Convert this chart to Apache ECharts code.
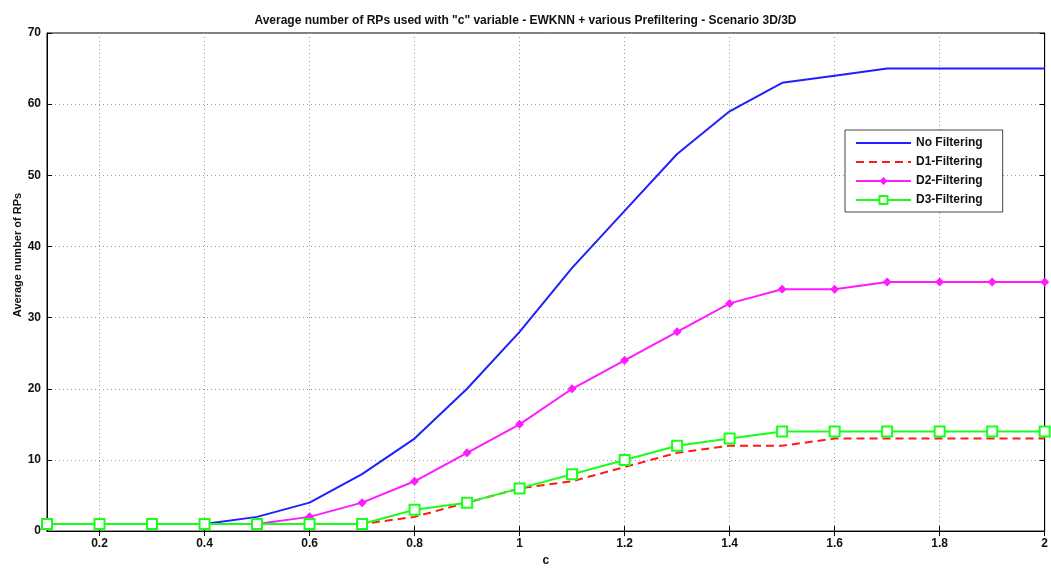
<!DOCTYPE html>
<html>
<head>
<meta charset="utf-8">
<script src="https://cdn.jsdelivr.net/npm/echarts@6/dist/echarts.min.js"></script>
<style>
    html, body { margin: 0; padding: 0; background: #fff; }
    #chart { width: 1051px; height: 572px; }
</style>
</head>
<body>
<div id="chart"></div>
<script>
    // c values along the x axis
    const cValues = ['0.1', '0.2', '0.3', '0.4', '0.5', '0.6', '0.7', '0.8', '0.9', '1',
        '1.1', '1.2', '1.3', '1.4', '1.5', '1.6', '1.7', '1.8', '1.9', '2']
    const noFiltering = [1, 1, 1, 1, 2, 4, 8, 13, 20, 28, 37, 45, 53, 59, 63, 64, 65, 65, 65, 65]
    const d1Filtering = [1, 1, 1, 1, 1, 1, 1, 2, 4, 6, 7, 9, 11, 12, 12, 13, 13, 13, 13, 13]
    const d2Filtering = [1, 1, 1, 1, 1, 2, 4, 7, 11, 15, 20, 24, 28, 32, 34, 34, 35, 35, 35, 35]
    const d3Filtering = [1, 1, 1, 1, 1, 1, 1, 3, 4, 6, 8, 10, 12, 13, 14, 14, 14, 14, 14, 14]
    const yTicks = [0, 10, 20, 30, 40, 50, 60, 70]

    const font = "'Liberation Sans', Arial, sans-serif"
    const everyOther = (idx) => idx % 2 === 1

    const myChart = echarts.init(document.getElementById('chart'))
    myChart.setOption({
        backgroundColor: '#fff',
        animation: false,
        title: {
            text: 'Average number of RPs used with "c" variable - EWKNN + various Prefiltering - Scenario 3D/3D',
            left: 'center',
            top: 10,
            textStyle: {fontFamily: font, fontSize: 12, fontWeight: 'bold', color: '#111'}
        },
        grid: {
            left: 47, right: 5, top: 33, bottom: 34,
            show: true, borderColor: '#000', borderWidth: 1, backgroundColor: '#fff'
        },
        legend: {
            orient: 'vertical',
            left: 845, top: 130,
            padding: [6, 20, 5, 10],
            itemWidth: 55, itemHeight: 10, itemGap: 5,
            backgroundColor: '#fff',
            borderColor: '#444', borderWidth: 1,
            textStyle: {fontFamily: font, fontSize: 12, fontWeight: 'bold', color: '#111', lineHeight: 14},
            data: [
                {name: 'No Filtering', itemStyle: {opacity: 0}},
                {name: 'D1-Filtering', itemStyle: {opacity: 0}},
                {name: 'D2-Filtering'},
                {name: 'D3-Filtering'}
            ]
        },
        xAxis: [{
            type: 'category',
            data: cValues,
            boundaryGap: false,
            name: 'c',
            nameLocation: 'middle',
            nameGap: 19,
            nameTextStyle: {fontFamily: font, fontSize: 12, fontWeight: 'bold', color: '#111'},
            axisLine: {lineStyle: {color: '#000'}},
            axisTick: {inside: true, length: 5, interval: everyOther, lineStyle: {color: '#000'}},
            axisLabel: {interval: everyOther, margin: 7, fontFamily: font, fontSize: 12, fontWeight: 'bold', color: '#111'},
            splitLine: {show: true, interval: everyOther, lineStyle: {color: '#999', type: [1, 3]}}
        }, {
            type: 'category',
            position: 'top',
            data: cValues,
            boundaryGap: false,
            axisLine: {lineStyle: {color: '#000'}},
            axisTick: {inside: true, length: 5, interval: everyOther, lineStyle: {color: '#000'}},
            axisLabel: {show: false},
            splitLine: {show: false}
        }],
        yAxis: [{
            type: 'value',
            min: yTicks[0], max: yTicks[yTicks.length - 1], interval: 10,
            axisLine: {show: true, lineStyle: {color: '#000'}},
            axisTick: {show: true, inside: true, length: 5, lineStyle: {color: '#000'}},
            axisLabel: {margin: 6, fontFamily: font, fontSize: 12, fontWeight: 'bold', color: '#111'},
            splitLine: {show: true, lineStyle: {color: '#999', type: [1, 3]}}
        }, {
            type: 'value',
            position: 'right',
            min: yTicks[0], max: yTicks[yTicks.length - 1], interval: 10,
            axisLine: {show: true, lineStyle: {color: '#000'}},
            axisTick: {show: true, inside: true, length: 5, lineStyle: {color: '#000'}},
            axisLabel: {show: false},
            splitLine: {show: false}
        }],
        graphic: [{
            type: 'text',
            x: 18, y: 255,
            rotation: Math.PI / 2,
            style: {
                text: 'Average number of RPs',
                fontFamily: font, fontSize: 11, fontWeight: 'bold', fill: '#111',
                align: 'center', verticalAlign: 'middle'
            }
        }],
        series: [{
            name: 'No Filtering',
            type: 'line',
            data: noFiltering,
            symbol: 'none',
            lineStyle: {color: '#1f1fff', width: 2},
            itemStyle: {color: '#1f1fff'}
        }, {
            name: 'D1-Filtering',
            type: 'line',
            data: d1Filtering,
            symbol: 'none',
            lineStyle: {color: '#ff1a1a', width: 2, type: [8, 5]},
            itemStyle: {color: '#ff1a1a'}
        }, {
            name: 'D2-Filtering',
            type: 'line',
            data: d2Filtering,
            symbol: 'diamond',
            symbolSize: 9,
            lineStyle: {color: '#ff1aff', width: 2},
            itemStyle: {color: '#ff1aff'}
        }, {
            name: 'D3-Filtering',
            type: 'line',
            data: d3Filtering,
            symbol: 'emptyRect',
            symbolSize: 10,
            lineStyle: {color: '#1aff1a', width: 2},
            itemStyle: {color: '#1aff1a', borderWidth: 1.5}
        }]
    })
</script>
</body>
</html>
